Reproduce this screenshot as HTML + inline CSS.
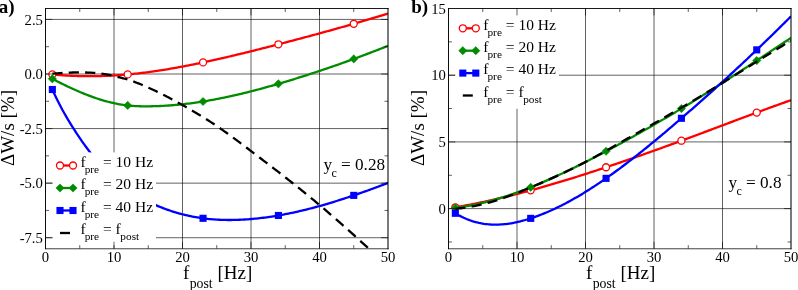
<!DOCTYPE html>
<html><head><meta charset="utf-8"><title>fig</title>
<style>
html,body{margin:0;padding:0;background:#fff;}
body{width:798px;height:290px;overflow:hidden;font-family:"Liberation Serif",serif;}
svg{display:block;will-change:transform;}
svg text{font-family:"Liberation Serif",serif;fill:#000;}
</style></head><body>
<svg width="798" height="290" viewBox="0 0 798 290">
<rect width="798" height="290" fill="#fff"/>
<line x1="114.00" y1="8.5" x2="114.00" y2="248.65" stroke="#000" stroke-width="0.62"/>
<line x1="182.50" y1="8.5" x2="182.50" y2="248.65" stroke="#000" stroke-width="0.62"/>
<line x1="251.00" y1="8.5" x2="251.00" y2="248.65" stroke="#000" stroke-width="0.62"/>
<line x1="319.50" y1="8.5" x2="319.50" y2="248.65" stroke="#000" stroke-width="0.62"/>
<line x1="45.5" y1="19.42" x2="388.0" y2="19.42" stroke="#000" stroke-width="0.62"/>
<line x1="45.5" y1="74.00" x2="388.0" y2="74.00" stroke="#000" stroke-width="0.62"/>
<line x1="45.5" y1="128.57" x2="388.0" y2="128.57" stroke="#000" stroke-width="0.62"/>
<line x1="45.5" y1="183.15" x2="388.0" y2="183.15" stroke="#000" stroke-width="0.62"/>
<line x1="45.5" y1="237.73" x2="388.0" y2="237.73" stroke="#000" stroke-width="0.62"/>
<clipPath id="clip45"><rect x="45.5" y="8.5" width="342.5" height="240.15"/></clipPath>
<path clip-path="url(#clip45)" d="M52.35,74.43 L54.04,74.59 L55.72,74.74 L57.41,74.88 L59.10,75.02 L60.78,75.15 L62.47,75.27 L64.16,75.38 L65.84,75.48 L67.53,75.58 L69.22,75.67 L70.90,75.76 L72.59,75.83 L74.28,75.90 L75.96,75.96 L77.65,76.01 L79.34,76.06 L81.02,76.10 L82.71,76.13 L84.40,76.16 L86.08,76.17 L87.77,76.19 L89.46,76.19 L91.14,76.19 L92.83,76.17 L94.52,76.16 L96.20,76.13 L97.89,76.10 L99.58,76.06 L101.26,76.02 L102.95,75.97 L104.64,75.91 L106.32,75.84 L108.01,75.77 L109.70,75.69 L111.38,75.60 L113.07,75.51 L114.76,75.41 L116.44,75.31 L118.13,75.19 L119.82,75.07 L121.50,74.95 L123.19,74.82 L124.88,74.68 L126.56,74.53 L128.25,74.38 L129.94,74.22 L131.62,74.06 L133.31,73.89 L135.00,73.71 L136.68,73.53 L138.37,73.34 L140.06,73.15 L141.74,72.95 L143.43,72.74 L145.12,72.53 L146.80,72.31 L148.49,72.09 L150.18,71.86 L151.86,71.63 L153.55,71.39 L155.24,71.15 L156.92,70.90 L158.61,70.64 L160.30,70.39 L161.98,70.12 L163.67,69.85 L165.36,69.58 L167.04,69.30 L168.73,69.02 L170.42,68.73 L172.10,68.44 L173.79,68.15 L175.48,67.85 L177.16,67.54 L178.85,67.24 L180.54,66.93 L182.22,66.61 L183.91,66.29 L185.60,65.97 L187.28,65.64 L188.97,65.31 L190.66,64.98 L192.34,64.64 L194.03,64.30 L195.72,63.95 L197.40,63.61 L199.09,63.26 L200.78,62.90 L202.46,62.55 L204.15,62.19 L205.84,61.83 L207.52,61.46 L209.21,61.10 L210.90,60.73 L212.58,60.35 L214.27,59.98 L215.96,59.60 L217.64,59.22 L219.33,58.84 L221.02,58.46 L222.71,58.07 L224.39,57.68 L226.08,57.29 L227.77,56.90 L229.45,56.50 L231.14,56.10 L232.83,55.70 L234.51,55.30 L236.20,54.90 L237.89,54.49 L239.57,54.08 L241.26,53.67 L242.95,53.26 L244.63,52.85 L246.32,52.44 L248.01,52.02 L249.69,51.60 L251.38,51.18 L253.07,50.76 L254.75,50.34 L256.44,49.92 L258.13,49.49 L259.81,49.07 L261.50,48.64 L263.19,48.21 L264.87,47.78 L266.56,47.35 L268.25,46.92 L269.93,46.49 L271.62,46.06 L273.31,45.62 L274.99,45.19 L276.68,44.75 L278.37,44.31 L280.05,43.88 L281.74,43.44 L283.43,43.00 L285.11,42.56 L286.80,42.12 L288.49,41.68 L290.17,41.23 L291.86,40.79 L293.55,40.35 L295.23,39.90 L296.92,39.46 L298.61,39.01 L300.29,38.56 L301.98,38.12 L303.67,37.67 L305.35,37.22 L307.04,36.76 L308.73,36.31 L310.41,35.86 L312.10,35.40 L313.79,34.95 L315.47,34.49 L317.16,34.03 L318.85,33.57 L320.53,33.11 L322.22,32.65 L323.91,32.19 L325.59,31.73 L327.28,31.26 L328.97,30.79 L330.65,30.33 L332.34,29.86 L334.03,29.39 L335.71,28.92 L337.40,28.44 L339.09,27.97 L340.77,27.49 L342.46,27.01 L344.15,26.54 L345.83,26.06 L347.52,25.57 L349.21,25.09 L350.89,24.61 L352.58,24.12 L354.27,23.63 L355.95,23.14 L357.64,22.65 L359.33,22.16 L361.01,21.67 L362.70,21.17 L364.39,20.67 L366.07,20.17 L367.76,19.67 L369.45,19.17 L371.13,18.67 L372.82,18.16 L374.51,17.65 L376.19,17.14 L377.88,16.63 L379.57,16.12 L381.25,15.60 L382.94,15.08 L384.63,14.57 L386.31,14.04 L388.00,13.52" fill="none" stroke="#ff0000" stroke-width="2.3"/>
<circle cx="52.35" cy="74.43" r="3.5" fill="#fff" stroke="#ff0000" stroke-width="1.3"/>
<circle cx="127.70" cy="74.43" r="3.5" fill="#fff" stroke="#ff0000" stroke-width="1.3"/>
<circle cx="203.05" cy="62.42" r="3.5" fill="#fff" stroke="#ff0000" stroke-width="1.3"/>
<circle cx="278.40" cy="44.30" r="3.5" fill="#fff" stroke="#ff0000" stroke-width="1.3"/>
<circle cx="353.75" cy="23.78" r="3.5" fill="#fff" stroke="#ff0000" stroke-width="1.3"/>
<path clip-path="url(#clip45)" d="M52.35,78.80 L54.04,79.68 L55.72,80.56 L57.41,81.43 L59.10,82.29 L60.78,83.14 L62.47,83.98 L64.16,84.81 L65.84,85.63 L67.53,86.44 L69.22,87.23 L70.90,88.02 L72.59,88.80 L74.28,89.56 L75.96,90.31 L77.65,91.05 L79.34,91.77 L81.02,92.48 L82.71,93.18 L84.40,93.87 L86.08,94.53 L87.77,95.19 L89.46,95.83 L91.14,96.45 L92.83,97.06 L94.52,97.65 L96.20,98.22 L97.89,98.78 L99.58,99.32 L101.26,99.84 L102.95,100.34 L104.64,100.83 L106.32,101.30 L108.01,101.74 L109.70,102.17 L111.38,102.58 L113.07,102.97 L114.76,103.34 L116.44,103.68 L118.13,104.01 L119.82,104.31 L121.50,104.59 L123.19,104.85 L124.88,105.09 L126.56,105.30 L128.25,105.49 L129.94,105.66 L131.62,105.80 L133.31,105.93 L135.00,106.03 L136.68,106.12 L138.37,106.19 L140.06,106.24 L141.74,106.28 L143.43,106.30 L145.12,106.31 L146.80,106.31 L148.49,106.30 L150.18,106.29 L151.86,106.26 L153.55,106.22 L155.24,106.18 L156.92,106.12 L158.61,106.06 L160.30,105.99 L161.98,105.91 L163.67,105.82 L165.36,105.72 L167.04,105.62 L168.73,105.50 L170.42,105.38 L172.10,105.25 L173.79,105.11 L175.48,104.97 L177.16,104.81 L178.85,104.65 L180.54,104.48 L182.22,104.31 L183.91,104.12 L185.60,103.93 L187.28,103.73 L188.97,103.52 L190.66,103.30 L192.34,103.08 L194.03,102.85 L195.72,102.62 L197.40,102.37 L199.09,102.12 L200.78,101.86 L202.46,101.60 L204.15,101.33 L205.84,101.05 L207.52,100.76 L209.21,100.47 L210.90,100.17 L212.58,99.86 L214.27,99.55 L215.96,99.23 L217.64,98.91 L219.33,98.58 L221.02,98.24 L222.71,97.90 L224.39,97.55 L226.08,97.20 L227.77,96.84 L229.45,96.48 L231.14,96.10 L232.83,95.73 L234.51,95.35 L236.20,94.96 L237.89,94.57 L239.57,94.17 L241.26,93.77 L242.95,93.36 L244.63,92.95 L246.32,92.53 L248.01,92.11 L249.69,91.69 L251.38,91.26 L253.07,90.82 L254.75,90.38 L256.44,89.94 L258.13,89.49 L259.81,89.04 L261.50,88.59 L263.19,88.13 L264.87,87.66 L266.56,87.20 L268.25,86.72 L269.93,86.25 L271.62,85.77 L273.31,85.29 L274.99,84.81 L276.68,84.32 L278.37,83.83 L280.05,83.34 L281.74,82.84 L283.43,82.34 L285.11,81.84 L286.80,81.33 L288.49,80.82 L290.17,80.31 L291.86,79.80 L293.55,79.28 L295.23,78.76 L296.92,78.23 L298.61,77.71 L300.29,77.18 L301.98,76.65 L303.67,76.11 L305.35,75.57 L307.04,75.03 L308.73,74.49 L310.41,73.94 L312.10,73.39 L313.79,72.84 L315.47,72.28 L317.16,71.72 L318.85,71.16 L320.53,70.60 L322.22,70.03 L323.91,69.46 L325.59,68.89 L327.28,68.32 L328.97,67.74 L330.65,67.16 L332.34,66.57 L334.03,65.99 L335.71,65.40 L337.40,64.81 L339.09,64.21 L340.77,63.62 L342.46,63.02 L344.15,62.41 L345.83,61.81 L347.52,61.20 L349.21,60.59 L350.89,59.98 L352.58,59.36 L354.27,58.74 L355.95,58.12 L357.64,57.50 L359.33,56.87 L361.01,56.24 L362.70,55.61 L364.39,54.98 L366.07,54.34 L367.76,53.70 L369.45,53.06 L371.13,52.41 L372.82,51.77 L374.51,51.12 L376.19,50.47 L377.88,49.81 L379.57,49.15 L381.25,48.49 L382.94,47.83 L384.63,47.17 L386.31,46.50 L388.00,45.83" fill="none" stroke="#008b00" stroke-width="2.3"/>
<path d="M48.25,78.80 L52.35,74.70 L56.45,78.80 L52.35,82.90Z" fill="#008b00" stroke="#008b00" stroke-width="0.6"/>
<path d="M123.60,105.43 L127.70,101.33 L131.80,105.43 L127.70,109.53Z" fill="#008b00" stroke="#008b00" stroke-width="0.6"/>
<path d="M198.95,101.50 L203.05,97.40 L207.15,101.50 L203.05,105.60Z" fill="#008b00" stroke="#008b00" stroke-width="0.6"/>
<path d="M274.30,83.82 L278.40,79.72 L282.50,83.82 L278.40,87.92Z" fill="#008b00" stroke="#008b00" stroke-width="0.6"/>
<path d="M349.65,58.93 L353.75,54.83 L357.85,58.93 L353.75,63.03Z" fill="#008b00" stroke="#008b00" stroke-width="0.6"/>
<path clip-path="url(#clip45)" d="M52.35,89.50 L54.04,93.21 L55.72,96.79 L57.41,100.25 L59.10,103.59 L60.78,106.82 L62.47,109.95 L64.16,112.99 L65.84,115.94 L67.53,118.82 L69.22,121.63 L70.90,124.37 L72.59,127.07 L74.28,129.71 L75.96,132.32 L77.65,134.88 L79.34,137.40 L81.02,139.87 L82.71,142.30 L84.40,144.68 L86.08,147.01 L87.77,149.30 L89.46,151.53 L91.14,153.71 L92.83,155.84 L94.52,157.91 L96.20,159.94 L97.89,161.92 L99.58,163.84 L101.26,165.72 L102.95,167.55 L104.64,169.34 L106.32,171.08 L108.01,172.77 L109.70,174.42 L111.38,176.03 L113.07,177.59 L114.76,179.11 L116.44,180.58 L118.13,182.02 L119.82,183.41 L121.50,184.77 L123.19,186.08 L124.88,187.36 L126.56,188.60 L128.25,189.80 L129.94,190.97 L131.62,192.11 L133.31,193.21 L135.00,194.28 L136.68,195.31 L138.37,196.32 L140.06,197.29 L141.74,198.24 L143.43,199.16 L145.12,200.05 L146.80,200.92 L148.49,201.76 L150.18,202.58 L151.86,203.37 L153.55,204.14 L155.24,204.89 L156.92,205.62 L158.61,206.33 L160.30,207.02 L161.98,207.69 L163.67,208.34 L165.36,208.97 L167.04,209.58 L168.73,210.17 L170.42,210.74 L172.10,211.30 L173.79,211.84 L175.48,212.35 L177.16,212.85 L178.85,213.33 L180.54,213.80 L182.22,214.24 L183.91,214.67 L185.60,215.08 L187.28,215.47 L188.97,215.84 L190.66,216.20 L192.34,216.54 L194.03,216.86 L195.72,217.17 L197.40,217.46 L199.09,217.73 L200.78,217.99 L202.46,218.22 L204.15,218.45 L205.84,218.65 L207.52,218.84 L209.21,219.02 L210.90,219.18 L212.58,219.32 L214.27,219.45 L215.96,219.57 L217.64,219.67 L219.33,219.76 L221.02,219.83 L222.71,219.89 L224.39,219.93 L226.08,219.96 L227.77,219.98 L229.45,219.99 L231.14,219.98 L232.83,219.97 L234.51,219.94 L236.20,219.89 L237.89,219.84 L239.57,219.77 L241.26,219.70 L242.95,219.61 L244.63,219.51 L246.32,219.40 L248.01,219.28 L249.69,219.16 L251.38,219.02 L253.07,218.87 L254.75,218.71 L256.44,218.54 L258.13,218.36 L259.81,218.17 L261.50,217.97 L263.19,217.76 L264.87,217.54 L266.56,217.31 L268.25,217.08 L269.93,216.83 L271.62,216.58 L273.31,216.31 L274.99,216.04 L276.68,215.76 L278.37,215.47 L280.05,215.17 L281.74,214.87 L283.43,214.55 L285.11,214.23 L286.80,213.90 L288.49,213.57 L290.17,213.22 L291.86,212.87 L293.55,212.51 L295.23,212.14 L296.92,211.76 L298.61,211.38 L300.29,210.99 L301.98,210.59 L303.67,210.19 L305.35,209.77 L307.04,209.35 L308.73,208.93 L310.41,208.50 L312.10,208.06 L313.79,207.61 L315.47,207.16 L317.16,206.70 L318.85,206.24 L320.53,205.77 L322.22,205.29 L323.91,204.81 L325.59,204.32 L327.28,203.83 L328.97,203.33 L330.65,202.82 L332.34,202.31 L334.03,201.79 L335.71,201.27 L337.40,200.74 L339.09,200.21 L340.77,199.68 L342.46,199.13 L344.15,198.59 L345.83,198.03 L347.52,197.48 L349.21,196.92 L350.89,196.35 L352.58,195.78 L354.27,195.20 L355.95,194.62 L357.64,194.04 L359.33,193.45 L361.01,192.86 L362.70,192.27 L364.39,191.67 L366.07,191.07 L367.76,190.46 L369.45,189.85 L371.13,189.24 L372.82,188.62 L374.51,188.00 L376.19,187.38 L377.88,186.75 L379.57,186.12 L381.25,185.49 L382.94,184.86 L384.63,184.22 L386.31,183.58 L388.00,182.94" fill="none" stroke="#0000ff" stroke-width="2.3"/>
<rect x="48.80" y="85.95" width="7.1" height="7.1" fill="#0000ff"/>
<rect x="124.15" y="185.87" width="7.1" height="7.1" fill="#0000ff"/>
<rect x="199.50" y="214.75" width="7.1" height="7.1" fill="#0000ff"/>
<rect x="274.85" y="211.92" width="7.1" height="7.1" fill="#0000ff"/>
<rect x="350.20" y="191.83" width="7.1" height="7.1" fill="#0000ff"/>
<path clip-path="url(#clip45)" d="M52.35,73.67 L54.04,73.53 L55.72,73.41 L57.41,73.28 L59.10,73.17 L60.78,73.06 L62.47,72.96 L64.16,72.86 L65.84,72.77 L67.53,72.70 L69.22,72.63 L70.90,72.57 L72.59,72.51 L74.28,72.47 L75.96,72.44 L77.65,72.42 L79.34,72.41 L81.02,72.42 L82.71,72.43 L84.40,72.46 L86.08,72.50 L87.77,72.56 L89.46,72.63 L91.14,72.72 L92.83,72.82 L94.52,72.95 L96.20,73.10 L97.89,73.26 L99.58,73.45 L101.26,73.66 L102.95,73.89 L104.64,74.14 L106.32,74.42 L108.01,74.72 L109.70,75.05 L111.38,75.40 L113.07,75.78 L114.76,76.18 L116.44,76.59 L118.13,77.01 L119.82,77.43 L121.50,77.85 L123.19,78.29 L124.88,78.75 L126.56,79.22 L128.25,79.73 L129.94,80.27 L131.62,80.84 L133.31,81.44 L135.00,82.06 L136.68,82.70 L138.37,83.37 L140.06,84.05 L141.74,84.75 L143.43,85.47 L145.12,86.20 L146.80,86.94 L148.49,87.69 L150.18,88.46 L151.86,89.23 L153.55,90.02 L155.24,90.82 L156.92,91.63 L158.61,92.45 L160.30,93.28 L161.98,94.12 L163.67,94.98 L165.36,95.84 L167.04,96.71 L168.73,97.58 L170.42,98.47 L172.10,99.37 L173.79,100.27 L175.48,101.18 L177.16,102.10 L178.85,103.02 L180.54,103.96 L182.22,104.90 L183.91,105.84 L185.60,106.79 L187.28,107.75 L188.97,108.72 L190.66,109.69 L192.34,110.67 L194.03,111.66 L195.72,112.66 L197.40,113.66 L199.09,114.68 L200.78,115.71 L202.46,116.74 L204.15,117.79 L205.84,118.85 L207.52,119.92 L209.21,121.00 L210.90,122.10 L212.58,123.21 L214.27,124.33 L215.96,125.46 L217.64,126.61 L219.33,127.77 L221.02,128.94 L222.71,130.12 L224.39,131.32 L226.08,132.52 L227.77,133.73 L229.45,134.95 L231.14,136.18 L232.83,137.42 L234.51,138.67 L236.20,139.92 L237.89,141.17 L239.57,142.43 L241.26,143.70 L242.95,144.97 L244.63,146.24 L246.32,147.52 L248.01,148.79 L249.69,150.07 L251.38,151.35 L253.07,152.63 L254.75,153.91 L256.44,155.19 L258.13,156.47 L259.81,157.75 L261.50,159.03 L263.19,160.32 L264.87,161.60 L266.56,162.89 L268.25,164.18 L269.93,165.47 L271.62,166.76 L273.31,168.05 L274.99,169.35 L276.68,170.65 L278.37,171.95 L280.05,173.26 L281.74,174.56 L283.43,175.88 L285.11,177.19 L286.80,178.51 L288.49,179.83 L290.17,181.15 L291.86,182.48 L293.55,183.82 L295.23,185.16 L296.92,186.50 L298.61,187.85 L300.29,189.20 L301.98,190.55 L303.67,191.92 L305.35,193.28 L307.04,194.66 L308.73,196.04 L310.41,197.42 L312.10,198.81 L313.79,200.21 L315.47,201.61 L317.16,203.02 L318.85,204.44 L320.53,205.86 L322.22,207.29 L323.91,208.72 L325.59,210.17 L327.28,211.61 L328.97,213.07 L330.65,214.53 L332.34,215.99 L334.03,217.47 L335.71,218.94 L337.40,220.42 L339.09,221.91 L340.77,223.40 L342.46,224.89 L344.15,226.39 L345.83,227.89 L347.52,229.40 L349.21,230.91 L350.89,232.42 L352.58,233.94 L354.27,235.46 L355.95,236.98 L357.64,238.50 L359.33,240.03 L361.01,241.56 L362.70,243.09 L364.39,244.62 L366.07,246.15 L367.76,247.69 L369.45,249.22 L371.13,250.76 L372.82,252.29 L374.51,253.83 L376.19,255.37 L377.88,256.90 L379.57,258.44 L381.25,259.98 L382.94,261.51 L384.63,263.05 L386.31,264.58 L388.00,266.12" fill="none" stroke="#000" stroke-width="2.3" stroke-dasharray="10.2 6.2"/>
<rect x="52.5" y="152.4" width="103.5" height="92.79999999999998" fill="#fff"/>
<line x1="60" y1="165.5" x2="73" y2="165.5" stroke="#ff0000" stroke-width="2.3"/>
<circle cx="60.00" cy="165.50" r="3.5" fill="#fff" stroke="#ff0000" stroke-width="1.3"/>
<circle cx="73.00" cy="165.50" r="3.5" fill="#fff" stroke="#ff0000" stroke-width="1.3"/>
<line x1="60" y1="188.0" x2="73" y2="188.0" stroke="#008b00" stroke-width="2.3"/>
<path d="M55.90,188.00 L60.00,183.90 L64.10,188.00 L60.00,192.10Z" fill="#008b00" stroke="#008b00" stroke-width="0.6"/>
<path d="M68.90,188.00 L73.00,183.90 L77.10,188.00 L73.00,192.10Z" fill="#008b00" stroke="#008b00" stroke-width="0.6"/>
<line x1="60" y1="210.5" x2="73" y2="210.5" stroke="#0000ff" stroke-width="2.3"/>
<rect x="56.45" y="206.95" width="7.1" height="7.1" fill="#0000ff"/>
<rect x="69.45" y="206.95" width="7.1" height="7.1" fill="#0000ff"/>
<line x1="60" y1="233.0" x2="70" y2="233.0" stroke="#000" stroke-width="2.3"/>
<text x="80.4" y="166.80" font-size="15.5">f<tspan dx="-0.9" dy="6" font-size="11.3">pre</tspan><tspan dy="-6"> = 10 Hz</tspan></text>
<text x="80.4" y="189.30" font-size="15.5">f<tspan dx="-0.9" dy="6" font-size="11.3">pre</tspan><tspan dy="-6"> = 20 Hz</tspan></text>
<text x="80.4" y="211.80" font-size="15.5">f<tspan dx="-0.9" dy="6" font-size="11.3">pre</tspan><tspan dy="-6"> = 40 Hz</tspan></text>
<text x="80.4" y="234.30" font-size="15.5">f<tspan dx="-0.9" dy="6" font-size="11.3">pre</tspan><tspan dy="-6"> = f</tspan><tspan dx="-0.4" dy="6" font-size="11.3">post</tspan></text>
<line x1="45.5" y1="8.0" x2="45.5" y2="249.15" stroke="#000" stroke-width="0.95"/>
<line x1="45.0" y1="8.5" x2="388.5" y2="8.5" stroke="#000" stroke-width="0.9"/>
<line x1="388.0" y1="8.0" x2="388.0" y2="249.15" stroke="#000" stroke-width="1.05"/>
<line x1="45.0" y1="248.77" x2="388.5" y2="248.77" stroke="#000" stroke-width="0.75"/>
<line x1="79.75" y1="248.65" x2="79.75" y2="245.15" stroke="#000" stroke-width="0.62"/>
<line x1="79.75" y1="8.5" x2="79.75" y2="12.0" stroke="#000" stroke-width="0.62"/>
<line x1="114.00" y1="248.65" x2="114.00" y2="241.75" stroke="#000" stroke-width="0.62"/>
<line x1="114.00" y1="8.5" x2="114.00" y2="15.4" stroke="#000" stroke-width="0.62"/>
<line x1="148.25" y1="248.65" x2="148.25" y2="245.15" stroke="#000" stroke-width="0.62"/>
<line x1="148.25" y1="8.5" x2="148.25" y2="12.0" stroke="#000" stroke-width="0.62"/>
<line x1="182.50" y1="248.65" x2="182.50" y2="241.75" stroke="#000" stroke-width="0.62"/>
<line x1="182.50" y1="8.5" x2="182.50" y2="15.4" stroke="#000" stroke-width="0.62"/>
<line x1="216.75" y1="248.65" x2="216.75" y2="245.15" stroke="#000" stroke-width="0.62"/>
<line x1="216.75" y1="8.5" x2="216.75" y2="12.0" stroke="#000" stroke-width="0.62"/>
<line x1="251.00" y1="248.65" x2="251.00" y2="241.75" stroke="#000" stroke-width="0.62"/>
<line x1="251.00" y1="8.5" x2="251.00" y2="15.4" stroke="#000" stroke-width="0.62"/>
<line x1="285.25" y1="248.65" x2="285.25" y2="245.15" stroke="#000" stroke-width="0.62"/>
<line x1="285.25" y1="8.5" x2="285.25" y2="12.0" stroke="#000" stroke-width="0.62"/>
<line x1="319.50" y1="248.65" x2="319.50" y2="241.75" stroke="#000" stroke-width="0.62"/>
<line x1="319.50" y1="8.5" x2="319.50" y2="15.4" stroke="#000" stroke-width="0.62"/>
<line x1="353.75" y1="248.65" x2="353.75" y2="245.15" stroke="#000" stroke-width="0.62"/>
<line x1="353.75" y1="8.5" x2="353.75" y2="12.0" stroke="#000" stroke-width="0.62"/>
<line x1="45.5" y1="19.42" x2="52.4" y2="19.42" stroke="#000" stroke-width="0.62"/>
<line x1="388.0" y1="19.42" x2="381.1" y2="19.42" stroke="#000" stroke-width="0.62"/>
<line x1="45.5" y1="74.00" x2="52.4" y2="74.00" stroke="#000" stroke-width="0.62"/>
<line x1="388.0" y1="74.00" x2="381.1" y2="74.00" stroke="#000" stroke-width="0.62"/>
<line x1="45.5" y1="128.57" x2="52.4" y2="128.57" stroke="#000" stroke-width="0.62"/>
<line x1="388.0" y1="128.57" x2="381.1" y2="128.57" stroke="#000" stroke-width="0.62"/>
<line x1="45.5" y1="183.15" x2="52.4" y2="183.15" stroke="#000" stroke-width="0.62"/>
<line x1="388.0" y1="183.15" x2="381.1" y2="183.15" stroke="#000" stroke-width="0.62"/>
<line x1="45.5" y1="237.73" x2="52.4" y2="237.73" stroke="#000" stroke-width="0.62"/>
<line x1="388.0" y1="237.73" x2="381.1" y2="237.73" stroke="#000" stroke-width="0.62"/>
<line x1="45.5" y1="46.71" x2="49.0" y2="46.71" stroke="#000" stroke-width="0.62"/>
<line x1="388.0" y1="46.71" x2="384.5" y2="46.71" stroke="#000" stroke-width="0.62"/>
<line x1="45.5" y1="101.29" x2="49.0" y2="101.29" stroke="#000" stroke-width="0.62"/>
<line x1="388.0" y1="101.29" x2="384.5" y2="101.29" stroke="#000" stroke-width="0.62"/>
<line x1="45.5" y1="155.86" x2="49.0" y2="155.86" stroke="#000" stroke-width="0.62"/>
<line x1="388.0" y1="155.86" x2="384.5" y2="155.86" stroke="#000" stroke-width="0.62"/>
<line x1="45.5" y1="210.44" x2="49.0" y2="210.44" stroke="#000" stroke-width="0.62"/>
<line x1="388.0" y1="210.44" x2="384.5" y2="210.44" stroke="#000" stroke-width="0.62"/>
<text x="45.50" y="262.45" font-size="14.7" text-anchor="middle">0</text>
<text x="114.00" y="262.45" font-size="14.7" text-anchor="middle">10</text>
<text x="182.50" y="262.45" font-size="14.7" text-anchor="middle">20</text>
<text x="251.00" y="262.45" font-size="14.7" text-anchor="middle">30</text>
<text x="319.50" y="262.45" font-size="14.7" text-anchor="middle">40</text>
<text x="388.00" y="262.45" font-size="14.7" text-anchor="middle">50</text>
<text x="42.90" y="24.62" font-size="14.7" text-anchor="end">2.5</text>
<text x="42.90" y="79.20" font-size="14.7" text-anchor="end">0.0</text>
<text x="42.90" y="133.77" font-size="14.7" text-anchor="end">-2.5</text>
<text x="42.90" y="188.35" font-size="14.7" text-anchor="end">-5.0</text>
<text x="42.90" y="242.93" font-size="14.7" text-anchor="end">-7.5</text>
<text x="183.05" y="279.35" font-size="19">f<tspan dx="0.3" dy="8.4" font-size="13.8">post</tspan><tspan dy="-8.4"> [Hz]</tspan></text>
<text x="-1.3" y="12.7" font-size="19" font-weight="bold">a)</text><text transform="translate(13.7,128) rotate(-90)" font-size="19" text-anchor="middle">ΔW/s [%]</text><text x="323.5" y="169.7" font-size="17.2">y<tspan dx="-0.7" dy="6.8" font-size="12">c</tspan><tspan dy="-6.8"> = 0.28</tspan></text>
<line x1="517.00" y1="8.5" x2="517.00" y2="248.65" stroke="#000" stroke-width="0.62"/>
<line x1="585.50" y1="8.5" x2="585.50" y2="248.65" stroke="#000" stroke-width="0.62"/>
<line x1="654.00" y1="8.5" x2="654.00" y2="248.65" stroke="#000" stroke-width="0.62"/>
<line x1="722.50" y1="8.5" x2="722.50" y2="248.65" stroke="#000" stroke-width="0.62"/>
<line x1="448.5" y1="75.21" x2="791.0" y2="75.21" stroke="#000" stroke-width="0.62"/>
<line x1="448.5" y1="141.92" x2="791.0" y2="141.92" stroke="#000" stroke-width="0.62"/>
<line x1="448.5" y1="208.62" x2="791.0" y2="208.62" stroke="#000" stroke-width="0.62"/>
<clipPath id="clip448"><rect x="448.5" y="8.5" width="342.5" height="240.15"/></clipPath>
<path clip-path="url(#clip448)" d="M455.35,207.29 L457.04,207.00 L458.72,206.71 L460.41,206.41 L462.10,206.10 L463.78,205.79 L465.47,205.48 L467.16,205.16 L468.84,204.84 L470.53,204.52 L472.22,204.18 L473.90,203.85 L475.59,203.51 L477.28,203.17 L478.96,202.82 L480.65,202.47 L482.34,202.12 L484.02,201.76 L485.71,201.39 L487.40,201.03 L489.08,200.66 L490.77,200.28 L492.46,199.90 L494.14,199.52 L495.83,199.13 L497.52,198.74 L499.20,198.35 L500.89,197.95 L502.58,197.55 L504.26,197.14 L505.95,196.74 L507.64,196.32 L509.32,195.91 L511.01,195.49 L512.70,195.07 L514.38,194.64 L516.07,194.21 L517.76,193.78 L519.44,193.34 L521.13,192.90 L522.82,192.46 L524.50,192.01 L526.19,191.56 L527.88,191.11 L529.56,190.66 L531.25,190.20 L532.94,189.74 L534.62,189.27 L536.31,188.80 L538.00,188.33 L539.68,187.86 L541.37,187.38 L543.06,186.90 L544.74,186.42 L546.43,185.94 L548.12,185.45 L549.80,184.96 L551.49,184.46 L553.18,183.97 L554.86,183.47 L556.55,182.97 L558.24,182.47 L559.92,181.96 L561.61,181.45 L563.30,180.94 L564.98,180.43 L566.67,179.91 L568.36,179.39 L570.04,178.87 L571.73,178.35 L573.42,177.82 L575.10,177.30 L576.79,176.77 L578.48,176.23 L580.16,175.70 L581.85,175.16 L583.54,174.63 L585.22,174.09 L586.91,173.54 L588.60,173.00 L590.28,172.46 L591.97,171.91 L593.66,171.36 L595.34,170.81 L597.03,170.25 L598.72,169.70 L600.40,169.14 L602.09,168.58 L603.78,168.02 L605.46,167.46 L607.15,166.90 L608.84,166.33 L610.52,165.77 L612.21,165.20 L613.90,164.63 L615.58,164.06 L617.27,163.49 L618.96,162.91 L620.64,162.34 L622.33,161.76 L624.02,161.18 L625.71,160.60 L627.39,160.02 L629.08,159.44 L630.77,158.85 L632.45,158.27 L634.14,157.68 L635.83,157.09 L637.51,156.50 L639.20,155.91 L640.89,155.32 L642.57,154.72 L644.26,154.13 L645.95,153.53 L647.63,152.94 L649.32,152.34 L651.01,151.74 L652.69,151.14 L654.38,150.53 L656.07,149.93 L657.75,149.32 L659.44,148.72 L661.13,148.11 L662.81,147.50 L664.50,146.89 L666.19,146.28 L667.87,145.67 L669.56,145.05 L671.25,144.44 L672.93,143.82 L674.62,143.21 L676.31,142.59 L677.99,141.97 L679.68,141.35 L681.37,140.73 L683.05,140.11 L684.74,139.48 L686.43,138.86 L688.11,138.23 L689.80,137.61 L691.49,136.98 L693.17,136.35 L694.86,135.73 L696.55,135.10 L698.23,134.47 L699.92,133.84 L701.61,133.21 L703.29,132.58 L704.98,131.94 L706.67,131.31 L708.35,130.68 L710.04,130.05 L711.73,129.41 L713.41,128.78 L715.10,128.15 L716.79,127.51 L718.47,126.88 L720.16,126.24 L721.85,125.61 L723.53,124.98 L725.22,124.34 L726.91,123.71 L728.59,123.08 L730.28,122.44 L731.97,121.81 L733.65,121.18 L735.34,120.54 L737.03,119.91 L738.71,119.28 L740.40,118.65 L742.09,118.02 L743.77,117.39 L745.46,116.76 L747.15,116.13 L748.83,115.50 L750.52,114.88 L752.21,114.25 L753.89,113.62 L755.58,113.00 L757.27,112.37 L758.95,111.75 L760.64,111.13 L762.33,110.51 L764.01,109.89 L765.70,109.27 L767.39,108.65 L769.07,108.04 L770.76,107.42 L772.45,106.81 L774.13,106.20 L775.82,105.58 L777.51,104.97 L779.19,104.37 L780.88,103.76 L782.57,103.16 L784.25,102.55 L785.94,101.95 L787.63,101.35 L789.31,100.75 L791.00,100.16" fill="none" stroke="#ff0000" stroke-width="2.3"/>
<circle cx="455.35" cy="207.29" r="3.5" fill="#fff" stroke="#ff0000" stroke-width="1.3"/>
<circle cx="530.70" cy="190.35" r="3.5" fill="#fff" stroke="#ff0000" stroke-width="1.3"/>
<circle cx="606.05" cy="167.27" r="3.5" fill="#fff" stroke="#ff0000" stroke-width="1.3"/>
<circle cx="681.40" cy="140.72" r="3.5" fill="#fff" stroke="#ff0000" stroke-width="1.3"/>
<circle cx="756.75" cy="112.56" r="3.5" fill="#fff" stroke="#ff0000" stroke-width="1.3"/>
<path clip-path="url(#clip448)" d="M455.35,207.96 L457.04,207.74 L458.72,207.51 L460.41,207.27 L462.10,207.01 L463.78,206.74 L465.47,206.46 L467.16,206.17 L468.84,205.86 L470.53,205.55 L472.22,205.22 L473.90,204.87 L475.59,204.52 L477.28,204.16 L478.96,203.78 L480.65,203.39 L482.34,202.99 L484.02,202.58 L485.71,202.16 L487.40,201.73 L489.08,201.29 L490.77,200.83 L492.46,200.37 L494.14,199.89 L495.83,199.41 L497.52,198.91 L499.20,198.41 L500.89,197.89 L502.58,197.37 L504.26,196.83 L505.95,196.29 L507.64,195.74 L509.32,195.17 L511.01,194.60 L512.70,194.02 L514.38,193.43 L516.07,192.83 L517.76,192.22 L519.44,191.60 L521.13,190.98 L522.82,190.35 L524.50,189.70 L526.19,189.05 L527.88,188.40 L529.56,187.73 L531.25,187.06 L532.94,186.38 L534.62,185.69 L536.31,184.99 L538.00,184.29 L539.68,183.58 L541.37,182.86 L543.06,182.14 L544.74,181.40 L546.43,180.67 L548.12,179.92 L549.80,179.17 L551.49,178.41 L553.18,177.65 L554.86,176.88 L556.55,176.10 L558.24,175.32 L559.92,174.54 L561.61,173.74 L563.30,172.95 L564.98,172.14 L566.67,171.33 L568.36,170.52 L570.04,169.70 L571.73,168.88 L573.42,168.05 L575.10,167.22 L576.79,166.38 L578.48,165.54 L580.16,164.69 L581.85,163.84 L583.54,162.98 L585.22,162.13 L586.91,161.26 L588.60,160.40 L590.28,159.53 L591.97,158.66 L593.66,157.78 L595.34,156.90 L597.03,156.02 L598.72,155.13 L600.40,154.25 L602.09,153.36 L603.78,152.46 L605.46,151.57 L607.15,150.67 L608.84,149.77 L610.52,148.87 L612.21,147.96 L613.90,147.05 L615.58,146.14 L617.27,145.23 L618.96,144.32 L620.64,143.40 L622.33,142.48 L624.02,141.56 L625.71,140.64 L627.39,139.71 L629.08,138.78 L630.77,137.85 L632.45,136.91 L634.14,135.97 L635.83,135.03 L637.51,134.09 L639.20,133.15 L640.89,132.20 L642.57,131.25 L644.26,130.29 L645.95,129.34 L647.63,128.38 L649.32,127.42 L651.01,126.45 L652.69,125.49 L654.38,124.52 L656.07,123.54 L657.75,122.57 L659.44,121.59 L661.13,120.61 L662.81,119.62 L664.50,118.63 L666.19,117.64 L667.87,116.65 L669.56,115.65 L671.25,114.65 L672.93,113.65 L674.62,112.64 L676.31,111.63 L677.99,110.62 L679.68,109.60 L681.37,108.58 L683.05,107.56 L684.74,106.54 L686.43,105.51 L688.11,104.48 L689.80,103.44 L691.49,102.40 L693.17,101.36 L694.86,100.32 L696.55,99.27 L698.23,98.22 L699.92,97.17 L701.61,96.12 L703.29,95.06 L704.98,94.00 L706.67,92.94 L708.35,91.88 L710.04,90.81 L711.73,89.74 L713.41,88.67 L715.10,87.60 L716.79,86.52 L718.47,85.44 L720.16,84.36 L721.85,83.28 L723.53,82.20 L725.22,81.11 L726.91,80.02 L728.59,78.93 L730.28,77.84 L731.97,76.75 L733.65,75.66 L735.34,74.56 L737.03,73.46 L738.71,72.36 L740.40,71.26 L742.09,70.16 L743.77,69.06 L745.46,67.95 L747.15,66.85 L748.83,65.74 L750.52,64.63 L752.21,63.52 L753.89,62.41 L755.58,61.30 L757.27,60.19 L758.95,59.08 L760.64,57.97 L762.33,56.85 L764.01,55.74 L765.70,54.62 L767.39,53.51 L769.07,52.39 L770.76,51.27 L772.45,50.16 L774.13,49.04 L775.82,47.92 L777.51,46.80 L779.19,45.68 L780.88,44.56 L782.57,43.45 L784.25,42.33 L785.94,41.21 L787.63,40.09 L789.31,38.97 L791.00,37.85" fill="none" stroke="#008b00" stroke-width="2.3"/>
<path d="M451.25,207.96 L455.35,203.86 L459.45,207.96 L455.35,212.06Z" fill="#008b00" stroke="#008b00" stroke-width="0.6"/>
<path d="M526.60,187.28 L530.70,183.18 L534.80,187.28 L530.70,191.38Z" fill="#008b00" stroke="#008b00" stroke-width="0.6"/>
<path d="M601.95,151.26 L606.05,147.16 L610.15,151.26 L606.05,155.36Z" fill="#008b00" stroke="#008b00" stroke-width="0.6"/>
<path d="M677.30,108.56 L681.40,104.46 L685.50,108.56 L681.40,112.66Z" fill="#008b00" stroke="#008b00" stroke-width="0.6"/>
<path d="M752.65,60.53 L756.75,56.43 L760.85,60.53 L756.75,64.63Z" fill="#008b00" stroke="#008b00" stroke-width="0.6"/>
<path clip-path="url(#clip448)" d="M455.35,213.29 L457.04,214.29 L458.72,215.24 L460.41,216.13 L462.10,216.98 L463.78,217.78 L465.47,218.53 L467.16,219.23 L468.84,219.88 L470.53,220.49 L472.22,221.06 L473.90,221.58 L475.59,222.05 L477.28,222.49 L478.96,222.88 L480.65,223.23 L482.34,223.54 L484.02,223.81 L485.71,224.04 L487.40,224.23 L489.08,224.38 L490.77,224.50 L492.46,224.58 L494.14,224.63 L495.83,224.64 L497.52,224.62 L499.20,224.56 L500.89,224.47 L502.58,224.35 L504.26,224.20 L505.95,224.02 L507.64,223.81 L509.32,223.57 L511.01,223.30 L512.70,223.01 L514.38,222.69 L516.07,222.34 L517.76,221.97 L519.44,221.57 L521.13,221.15 L522.82,220.71 L524.50,220.25 L526.19,219.76 L527.88,219.26 L529.56,218.73 L531.25,218.18 L532.94,217.62 L534.62,217.04 L536.31,216.44 L538.00,215.82 L539.68,215.19 L541.37,214.53 L543.06,213.86 L544.74,213.18 L546.43,212.47 L548.12,211.75 L549.80,211.02 L551.49,210.26 L553.18,209.49 L554.86,208.71 L556.55,207.91 L558.24,207.09 L559.92,206.26 L561.61,205.41 L563.30,204.55 L564.98,203.67 L566.67,202.78 L568.36,201.88 L570.04,200.96 L571.73,200.03 L573.42,199.08 L575.10,198.12 L576.79,197.14 L578.48,196.16 L580.16,195.16 L581.85,194.15 L583.54,193.12 L585.22,192.08 L586.91,191.03 L588.60,189.97 L590.28,188.90 L591.97,187.81 L593.66,186.72 L595.34,185.61 L597.03,184.49 L598.72,183.37 L600.40,182.23 L602.09,181.08 L603.78,179.92 L605.46,178.75 L607.15,177.57 L608.84,176.38 L610.52,175.18 L612.21,173.97 L613.90,172.76 L615.58,171.53 L617.27,170.30 L618.96,169.05 L620.64,167.80 L622.33,166.54 L624.02,165.27 L625.71,164.00 L627.39,162.71 L629.08,161.42 L630.77,160.12 L632.45,158.81 L634.14,157.50 L635.83,156.18 L637.51,154.85 L639.20,153.51 L640.89,152.17 L642.57,150.82 L644.26,149.47 L645.95,148.11 L647.63,146.74 L649.32,145.36 L651.01,143.98 L652.69,142.60 L654.38,141.21 L656.07,139.81 L657.75,138.41 L659.44,137.01 L661.13,135.59 L662.81,134.18 L664.50,132.76 L666.19,131.33 L667.87,129.90 L669.56,128.47 L671.25,127.03 L672.93,125.59 L674.62,124.15 L676.31,122.70 L677.99,121.25 L679.68,119.79 L681.37,118.33 L683.05,116.87 L684.74,115.41 L686.43,113.94 L688.11,112.47 L689.80,110.99 L691.49,109.52 L693.17,108.04 L694.86,106.56 L696.55,105.07 L698.23,103.58 L699.92,102.09 L701.61,100.59 L703.29,99.10 L704.98,97.59 L706.67,96.09 L708.35,94.58 L710.04,93.07 L711.73,91.55 L713.41,90.04 L715.10,88.52 L716.79,86.99 L718.47,85.46 L720.16,83.93 L721.85,82.40 L723.53,80.86 L725.22,79.32 L726.91,77.77 L728.59,76.23 L730.28,74.67 L731.97,73.12 L733.65,71.56 L735.34,70.00 L737.03,68.43 L738.71,66.86 L740.40,65.29 L742.09,63.72 L743.77,62.14 L745.46,60.55 L747.15,58.97 L748.83,57.37 L750.52,55.78 L752.21,54.18 L753.89,52.58 L755.58,50.98 L757.27,49.37 L758.95,47.75 L760.64,46.14 L762.33,44.52 L764.01,42.89 L765.70,41.26 L767.39,39.63 L769.07,38.00 L770.76,36.36 L772.45,34.71 L774.13,33.07 L775.82,31.41 L777.51,29.76 L779.19,28.10 L780.88,26.44 L782.57,24.77 L784.25,23.10 L785.94,21.42 L787.63,19.74 L789.31,18.06 L791.00,16.37" fill="none" stroke="#0000ff" stroke-width="2.3"/>
<rect x="451.80" y="209.74" width="7.1" height="7.1" fill="#0000ff"/>
<rect x="527.15" y="214.81" width="7.1" height="7.1" fill="#0000ff"/>
<rect x="602.50" y="174.79" width="7.1" height="7.1" fill="#0000ff"/>
<rect x="677.85" y="114.75" width="7.1" height="7.1" fill="#0000ff"/>
<rect x="753.20" y="46.31" width="7.1" height="7.1" fill="#0000ff"/>
<path clip-path="url(#clip448)" d="M455.35,208.76 L457.04,208.60 L458.72,208.43 L460.41,208.24 L462.10,208.03 L463.78,207.81 L465.47,207.58 L467.16,207.33 L468.84,207.06 L470.53,206.78 L472.22,206.48 L473.90,206.16 L475.59,205.83 L477.28,205.48 L478.96,205.11 L480.65,204.73 L482.34,204.33 L484.02,203.91 L485.71,203.48 L487.40,203.03 L489.08,202.56 L490.77,202.08 L492.46,201.58 L494.14,201.07 L495.83,200.55 L497.52,200.01 L499.20,199.46 L500.89,198.90 L502.58,198.32 L504.26,197.74 L505.95,197.14 L507.64,196.53 L509.32,195.92 L511.01,195.29 L512.70,194.65 L514.38,194.01 L516.07,193.35 L517.76,192.69 L519.44,192.02 L521.13,191.35 L522.82,190.67 L524.50,189.98 L526.19,189.29 L527.88,188.59 L529.56,187.89 L531.25,187.18 L532.94,186.47 L534.62,185.76 L536.31,185.04 L538.00,184.32 L539.68,183.59 L541.37,182.86 L543.06,182.13 L544.74,181.39 L546.43,180.65 L548.12,179.90 L549.80,179.15 L551.49,178.39 L553.18,177.63 L554.86,176.87 L556.55,176.10 L558.24,175.32 L559.92,174.55 L561.61,173.76 L563.30,172.97 L564.98,172.18 L566.67,171.38 L568.36,170.57 L570.04,169.76 L571.73,168.94 L573.42,168.11 L575.10,167.28 L576.79,166.44 L578.48,165.59 L580.16,164.74 L581.85,163.88 L583.54,163.01 L585.22,162.13 L586.91,161.24 L588.60,160.35 L590.28,159.45 L591.97,158.54 L593.66,157.62 L595.34,156.70 L597.03,155.77 L598.72,154.84 L600.40,153.90 L602.09,152.96 L603.78,152.01 L605.46,151.06 L607.15,150.11 L608.84,149.16 L610.52,148.20 L612.21,147.24 L613.90,146.28 L615.58,145.32 L617.27,144.36 L618.96,143.40 L620.64,142.45 L622.33,141.49 L624.02,140.53 L625.71,139.58 L627.39,138.62 L629.08,137.67 L630.77,136.71 L632.45,135.76 L634.14,134.80 L635.83,133.85 L637.51,132.90 L639.20,131.94 L640.89,130.99 L642.57,130.03 L644.26,129.08 L645.95,128.12 L647.63,127.16 L649.32,126.20 L651.01,125.24 L652.69,124.28 L654.38,123.32 L656.07,122.35 L657.75,121.38 L659.44,120.42 L661.13,119.45 L662.81,118.47 L664.50,117.50 L666.19,116.52 L667.87,115.55 L669.56,114.57 L671.25,113.59 L672.93,112.60 L674.62,111.62 L676.31,110.63 L677.99,109.65 L679.68,108.65 L681.37,107.66 L683.05,106.67 L684.74,105.67 L686.43,104.67 L688.11,103.67 L689.80,102.67 L691.49,101.67 L693.17,100.66 L694.86,99.65 L696.55,98.64 L698.23,97.63 L699.92,96.61 L701.61,95.60 L703.29,94.58 L704.98,93.56 L706.67,92.54 L708.35,91.51 L710.04,90.49 L711.73,89.46 L713.41,88.43 L715.10,87.40 L716.79,86.37 L718.47,85.33 L720.16,84.30 L721.85,83.26 L723.53,82.22 L725.22,81.18 L726.91,80.14 L728.59,79.10 L730.28,78.06 L731.97,77.01 L733.65,75.97 L735.34,74.92 L737.03,73.87 L738.71,72.83 L740.40,71.78 L742.09,70.73 L743.77,69.68 L745.46,68.63 L747.15,67.58 L748.83,66.53 L750.52,65.48 L752.21,64.43 L753.89,63.38 L755.58,62.33 L757.27,61.28 L758.95,60.23 L760.64,59.18 L762.33,58.13 L764.01,57.09 L765.70,56.04 L767.39,55.00 L769.07,53.95 L770.76,52.91 L772.45,51.87 L774.13,50.83 L775.82,49.79 L777.51,48.75 L779.19,47.72 L780.88,46.68 L782.57,45.65 L784.25,44.62 L785.94,43.59 L787.63,42.57 L789.31,41.54 L791.00,40.52" fill="none" stroke="#000" stroke-width="2.3" stroke-dasharray="10.2 6.2"/>
<rect x="455" y="9" width="103.89999999999998" height="99.7" fill="#fff"/>
<line x1="462.8" y1="28.3" x2="475.8" y2="28.3" stroke="#ff0000" stroke-width="2.3"/>
<circle cx="462.80" cy="28.30" r="3.5" fill="#fff" stroke="#ff0000" stroke-width="1.3"/>
<circle cx="475.80" cy="28.30" r="3.5" fill="#fff" stroke="#ff0000" stroke-width="1.3"/>
<line x1="462.8" y1="50.7" x2="475.8" y2="50.7" stroke="#008b00" stroke-width="2.3"/>
<path d="M458.70,50.70 L462.80,46.60 L466.90,50.70 L462.80,54.80Z" fill="#008b00" stroke="#008b00" stroke-width="0.6"/>
<path d="M471.70,50.70 L475.80,46.60 L479.90,50.70 L475.80,54.80Z" fill="#008b00" stroke="#008b00" stroke-width="0.6"/>
<line x1="462.8" y1="73.1" x2="475.8" y2="73.1" stroke="#0000ff" stroke-width="2.3"/>
<rect x="459.25" y="69.55" width="7.1" height="7.1" fill="#0000ff"/>
<rect x="472.25" y="69.55" width="7.1" height="7.1" fill="#0000ff"/>
<line x1="462.8" y1="95.49999999999999" x2="472.8" y2="95.49999999999999" stroke="#000" stroke-width="2.3"/>
<text x="483.2" y="29.60" font-size="15.5">f<tspan dx="-0.9" dy="6" font-size="11.3">pre</tspan><tspan dy="-6"> = 10 Hz</tspan></text>
<text x="483.2" y="52.00" font-size="15.5">f<tspan dx="-0.9" dy="6" font-size="11.3">pre</tspan><tspan dy="-6"> = 20 Hz</tspan></text>
<text x="483.2" y="74.40" font-size="15.5">f<tspan dx="-0.9" dy="6" font-size="11.3">pre</tspan><tspan dy="-6"> = 40 Hz</tspan></text>
<text x="483.2" y="96.80" font-size="15.5">f<tspan dx="-0.9" dy="6" font-size="11.3">pre</tspan><tspan dy="-6"> = f</tspan><tspan dx="-0.4" dy="6" font-size="11.3">post</tspan></text>
<line x1="448.5" y1="8.0" x2="448.5" y2="249.15" stroke="#000" stroke-width="0.95"/>
<line x1="448.0" y1="8.5" x2="791.5" y2="8.5" stroke="#000" stroke-width="0.9"/>
<line x1="791.0" y1="8.0" x2="791.0" y2="249.15" stroke="#000" stroke-width="1.05"/>
<line x1="448.0" y1="248.77" x2="791.5" y2="248.77" stroke="#000" stroke-width="0.75"/>
<line x1="482.75" y1="248.65" x2="482.75" y2="245.15" stroke="#000" stroke-width="0.62"/>
<line x1="482.75" y1="8.5" x2="482.75" y2="12.0" stroke="#000" stroke-width="0.62"/>
<line x1="517.00" y1="248.65" x2="517.00" y2="241.75" stroke="#000" stroke-width="0.62"/>
<line x1="517.00" y1="8.5" x2="517.00" y2="15.4" stroke="#000" stroke-width="0.62"/>
<line x1="551.25" y1="248.65" x2="551.25" y2="245.15" stroke="#000" stroke-width="0.62"/>
<line x1="551.25" y1="8.5" x2="551.25" y2="12.0" stroke="#000" stroke-width="0.62"/>
<line x1="585.50" y1="248.65" x2="585.50" y2="241.75" stroke="#000" stroke-width="0.62"/>
<line x1="585.50" y1="8.5" x2="585.50" y2="15.4" stroke="#000" stroke-width="0.62"/>
<line x1="619.75" y1="248.65" x2="619.75" y2="245.15" stroke="#000" stroke-width="0.62"/>
<line x1="619.75" y1="8.5" x2="619.75" y2="12.0" stroke="#000" stroke-width="0.62"/>
<line x1="654.00" y1="248.65" x2="654.00" y2="241.75" stroke="#000" stroke-width="0.62"/>
<line x1="654.00" y1="8.5" x2="654.00" y2="15.4" stroke="#000" stroke-width="0.62"/>
<line x1="688.25" y1="248.65" x2="688.25" y2="245.15" stroke="#000" stroke-width="0.62"/>
<line x1="688.25" y1="8.5" x2="688.25" y2="12.0" stroke="#000" stroke-width="0.62"/>
<line x1="722.50" y1="248.65" x2="722.50" y2="241.75" stroke="#000" stroke-width="0.62"/>
<line x1="722.50" y1="8.5" x2="722.50" y2="15.4" stroke="#000" stroke-width="0.62"/>
<line x1="756.75" y1="248.65" x2="756.75" y2="245.15" stroke="#000" stroke-width="0.62"/>
<line x1="756.75" y1="8.5" x2="756.75" y2="12.0" stroke="#000" stroke-width="0.62"/>
<line x1="448.5" y1="75.21" x2="455.4" y2="75.21" stroke="#000" stroke-width="0.62"/>
<line x1="791.0" y1="75.21" x2="784.1" y2="75.21" stroke="#000" stroke-width="0.62"/>
<line x1="448.5" y1="141.92" x2="455.4" y2="141.92" stroke="#000" stroke-width="0.62"/>
<line x1="791.0" y1="141.92" x2="784.1" y2="141.92" stroke="#000" stroke-width="0.62"/>
<line x1="448.5" y1="208.62" x2="455.4" y2="208.62" stroke="#000" stroke-width="0.62"/>
<line x1="791.0" y1="208.62" x2="784.1" y2="208.62" stroke="#000" stroke-width="0.62"/>
<line x1="448.5" y1="41.85" x2="452.0" y2="41.85" stroke="#000" stroke-width="0.62"/>
<line x1="791.0" y1="41.85" x2="787.5" y2="41.85" stroke="#000" stroke-width="0.62"/>
<line x1="448.5" y1="108.56" x2="452.0" y2="108.56" stroke="#000" stroke-width="0.62"/>
<line x1="791.0" y1="108.56" x2="787.5" y2="108.56" stroke="#000" stroke-width="0.62"/>
<line x1="448.5" y1="175.27" x2="452.0" y2="175.27" stroke="#000" stroke-width="0.62"/>
<line x1="791.0" y1="175.27" x2="787.5" y2="175.27" stroke="#000" stroke-width="0.62"/>
<line x1="448.5" y1="241.98" x2="452.0" y2="241.98" stroke="#000" stroke-width="0.62"/>
<line x1="791.0" y1="241.98" x2="787.5" y2="241.98" stroke="#000" stroke-width="0.62"/>
<text x="448.50" y="262.45" font-size="14.7" text-anchor="middle">0</text>
<text x="517.00" y="262.45" font-size="14.7" text-anchor="middle">10</text>
<text x="585.50" y="262.45" font-size="14.7" text-anchor="middle">20</text>
<text x="654.00" y="262.45" font-size="14.7" text-anchor="middle">30</text>
<text x="722.50" y="262.45" font-size="14.7" text-anchor="middle">40</text>
<text x="791.00" y="262.45" font-size="14.7" text-anchor="middle">50</text>
<text x="445.90" y="13.70" font-size="14.7" text-anchor="end">15</text>
<text x="445.90" y="80.41" font-size="14.7" text-anchor="end">10</text>
<text x="445.90" y="147.12" font-size="14.7" text-anchor="end">5</text>
<text x="445.90" y="213.82" font-size="14.7" text-anchor="end">0</text>
<text x="586.05" y="279.35" font-size="19">f<tspan dx="0.3" dy="8.4" font-size="13.8">post</tspan><tspan dy="-8.4"> [Hz]</tspan></text>
<text x="411.3" y="12.7" font-size="19" font-weight="bold">b)</text><text transform="translate(424.4,128) rotate(-90)" font-size="19" text-anchor="middle">ΔW/s [%]</text><text x="728.5" y="187.8" font-size="17.2">y<tspan dx="-0.7" dy="6.8" font-size="12">c</tspan><tspan dy="-6.8"> = 0.8</tspan></text>
</svg>
</body></html>
